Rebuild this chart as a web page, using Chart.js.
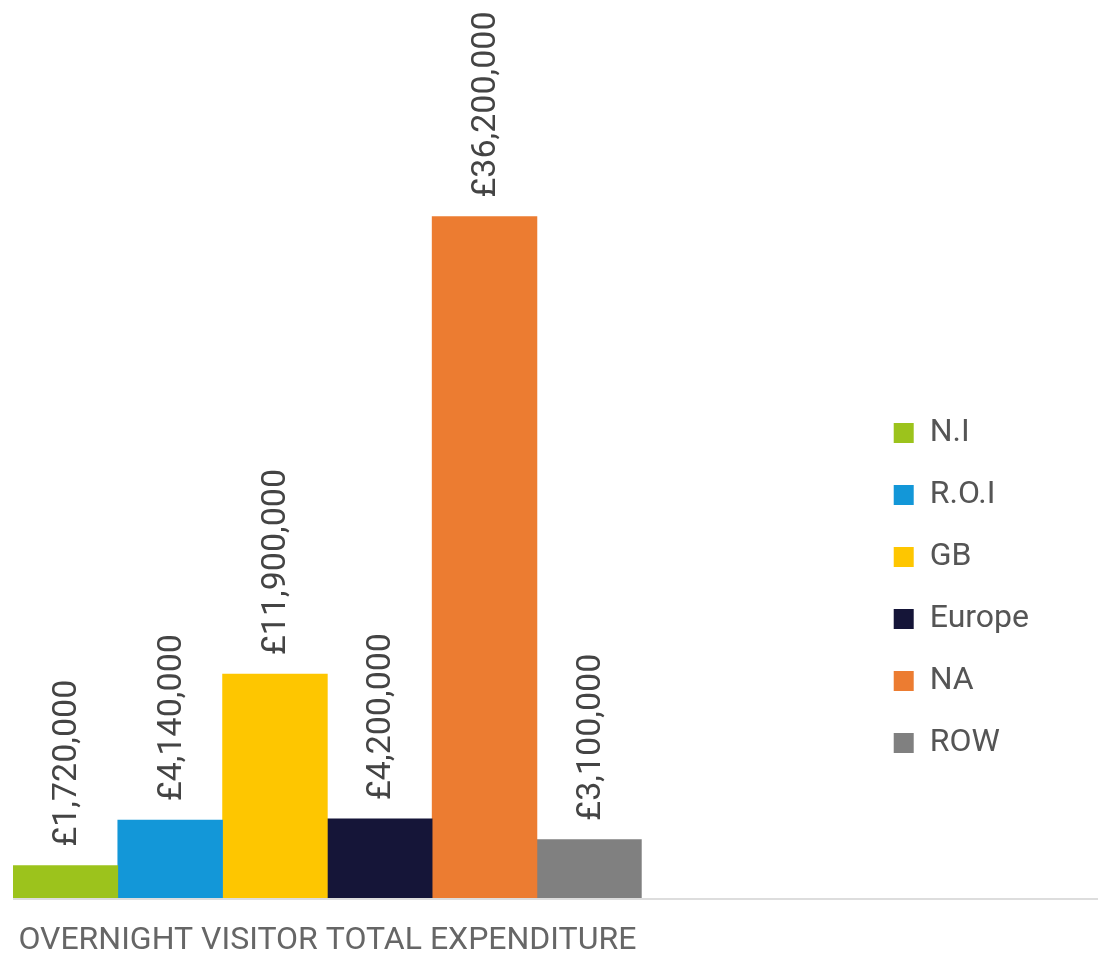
<!DOCTYPE html>
<html>
<head>
<meta charset="utf-8">
<script src="https://cdn.jsdelivr.net/npm/chart.js@4.4.1/dist/chart.umd.min.js"></script>
<style>
  html, body { margin: 0; padding: 0; background: #ffffff; }
  #wrap { width: 1098px; height: 957px; position: relative; }
</style>
</head>
<body>
<div id="wrap"><canvas id="c"></canvas></div>
<script>
// ---- data ----
const groupLabels = ['OVERNIGHT VISITOR TOTAL EXPENDITURE'];
const regions = ['N.I', 'R.O.I', 'GB', 'Europe', 'NA', 'ROW'];
const expenditure = [1720000, 4140000, 11900000, 4200000, 36200000, 3100000];
const regionColors = ['#9cc31c', '#1397d8', '#fec600', '#151538', '#ec7c31', '#808080'];
const yMax = 47700000;

const FONT = 'Roboto, "DejaVu Sans", sans-serif';

const datasets = regions.map((name, i) => ({
  label: name,
  data: [expenditure[i]],
  backgroundColor: regionColors[i],
  borderWidth: 0
}));

const valueLabels = {
  id: 'valueLabels',
  afterDatasetsDraw(chart) {
    const ctx = chart.ctx;
    ctx.save();
    ctx.fillStyle = '#444444';
    ctx.font = '34px ' + FONT;
    ctx.textAlign = 'left';
    ctx.textBaseline = 'middle';
    chart.data.datasets.forEach((ds, i) => {
      const meta = chart.getDatasetMeta(i);
      meta.data.forEach((bar, j) => {
        const v = ds.data[j];
        const txt = '£' + v.toLocaleString('en-GB');
        ctx.save();
        ctx.translate(bar.x + 2, bar.y - 19);
        ctx.rotate(-Math.PI / 2);
        ctx.fillText(txt, 0, 0);
        ctx.restore();
      });
    });
    ctx.restore();
  }
};

const baseLine = {
  id: 'baseLine',
  afterDatasetsDraw(chart) {
    const ctx = chart.ctx;
    const a = chart.chartArea;
    ctx.save();
    ctx.strokeStyle = '#dddddd';
    ctx.lineWidth = 2;
    ctx.beginPath();
    ctx.moveTo(a.left, a.bottom + 1);
    ctx.lineTo(chart.width, a.bottom + 1);
    ctx.stroke();
    ctx.restore();
  }
};

new Chart(document.getElementById('c'), {
  type: 'bar',
  data: { labels: groupLabels, datasets: datasets },
  options: {
    responsive: true,
    maintainAspectRatio: false,
    animation: false,
    layout: { padding: { left: 13, right: 59, top: 0, bottom: 0 } },
    datasets: { bar: { barPercentage: 1, categoryPercentage: 1 } },
    plugins: {
      tooltip: { enabled: false },
      legend: {
        position: 'right',
        align: 'start',
        title: { display: true, text: '', font: { size: 12, lineHeight: 1.2 }, padding: { top: 372.6, bottom: 0 } },
        labels: {
          boxWidth: 20,
          boxHeight: 20,
          padding: 30,
          color: '#555555',
          font: { family: FONT, size: 32 }
        }
      }
    },
    scales: {
      x: {
        grid: { display: false, drawTicks: false },
        border: { display: false },
        ticks: {
          color: '#666666',
          padding: 27,
          maxRotation: 0,
          minRotation: 0,
          autoSkip: false,
          font: { family: FONT, size: 32, lineHeight: 1 }
        },
        afterFit(s) { s.paddingLeft = 0; s.paddingRight = 0; s.height = 59; }
      },
      y: {
        position: 'right',
        min: 0,
        max: yMax,
        grid: { display: false, drawTicks: false },
        border: { display: false },
        ticks: { display: false },
        afterFit(s) { s.width = 222; }
      }
    }
  },
  plugins: [valueLabels, baseLine]
});
</script>
</body>
</html>
